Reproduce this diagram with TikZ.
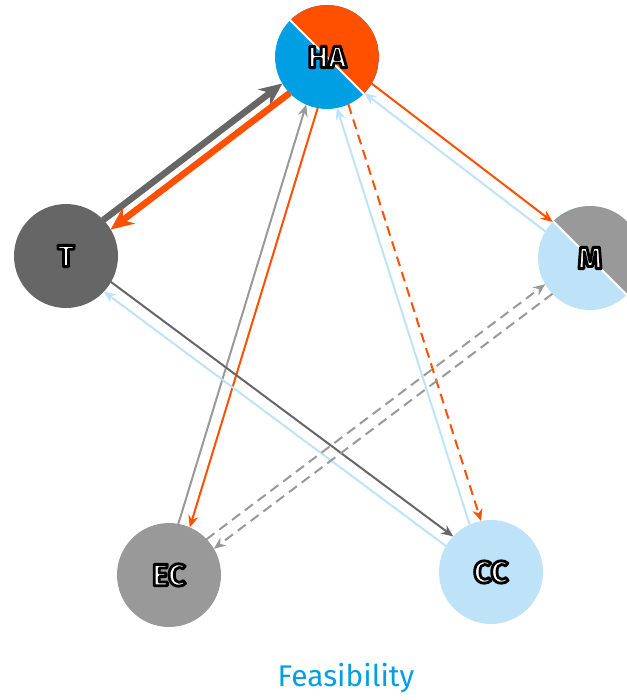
\documentclass[tikz,border=0pt]{standalone}
\usepackage{fontspec}
\setmainfont{Fira Sans}
\usepackage{tikz}
\usetikzlibrary{shapes,arrows.meta,calc}

\definecolor{haorange}{RGB}{255,80,0}
\definecolor{hablue}{RGB}{0,159,227}
\definecolor{darkgrey}{RGB}{102,102,102}
\definecolor{midgrey}{RGB}{153,153,153}
\definecolor{paleblue}{RGB}{190,227,248}

\newcommand{\off}{0.12cm}
\newcommand{\ring}[1]{\special{pdf:code q 0 G 1.6 w 1 j 2 Tr}#1\special{pdf:code Q}}
\newcommand{\conn}[3][]{\draw[edge,#1] ($(#2)!\off!90:(#3)$) -- ($(#3)!\off!-90:(#2)$);}

\begin{document}
\begin{tikzpicture}[x=0.02cm, y=-0.02cm,
    vertex/.style={circle, minimum size=2.08cm, inner sep=0pt, text=white, font=\fontsize{17.5}{17.5}\selectfont\bfseries},
    halfsplit/.style 2 args={fill=#1, path picture={
        \fill[#2] (path picture bounding box.north west) -- (path picture bounding box.north east) -- (path picture bounding box.south east) -- cycle;
        \draw[white, line width=0.04cm] (path picture bounding box.north west) -- (path picture bounding box.south east);}},
    edge/.style={-{Stealth[length=0.24cm, width=0.2cm]}, line width=0.04cm, shorten <=1.03cm, shorten >=1.03cm},
    heavy/.style={-{Stealth[length=0.46cm, width=0.4cm]}, line width=0.13cm},
    dashline/.style={dash pattern=on 0.2cm off 0.12cm}]
    \useasboundingbox (0,0) rectangle (626,700);

    % nodes
    \node (HA) [vertex, halfsplit={hablue}{haorange}] at (327,57) {\ring{HA}};
    \node (T) [vertex, fill=darkgrey] at (66,256) {\ring{T}};
    \node (M) [vertex, halfsplit={paleblue}{midgrey}] at (590,258) {\ring{M}};
    \node (EC) [vertex, fill=midgrey] at (169,575) {\ring{EC}};
    \node (CC) [vertex, fill=paleblue] at (491,572) {\ring{CC}};
    \node (title) [text=hablue, font=\fontsize{17}{17}\selectfont] at (346,678) {Feasibility};

    % links
    \conn[heavy, darkgrey]{T}{HA}
    \conn[heavy, haorange]{HA}{T}
    \conn[midgrey]{EC}{HA}
    \conn[haorange]{HA}{EC}
    \conn[haorange, dashline]{HA}{CC}
    \conn[paleblue]{CC}{HA}
    \conn[haorange]{HA}{M}
    \conn[paleblue]{M}{HA}
    \conn[darkgrey]{T}{CC}
    \conn[paleblue]{CC}{T}
    \conn[midgrey, dashline]{M}{EC}
    \conn[midgrey, dashline]{EC}{M}
\end{tikzpicture}
\end{document}
